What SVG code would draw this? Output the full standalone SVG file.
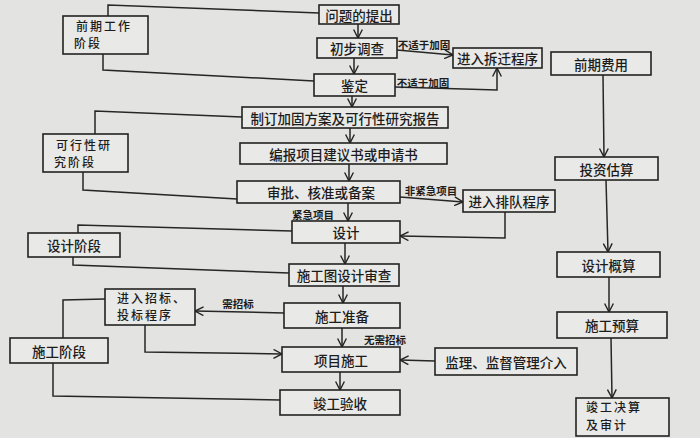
<svg xmlns="http://www.w3.org/2000/svg" width="700" height="438" viewBox="0 0 700 438">
<defs>
<marker id="arr" viewBox="0 0 10 10" refX="9.5" refY="5" markerWidth="10" markerHeight="10" markerUnits="userSpaceOnUse" orient="auto">
<path d="M1,0.6 L9.5,5 L1,9.4" fill="none" stroke="#222" stroke-width="1.4"/>
</marker>
<style>
.bx{fill:#e9e9e7;stroke:#222;stroke-width:1.6}
.t{font-family:"Noto Sans CJK SC","Noto Sans",sans-serif;font-size:13.5px;font-weight:500;fill:#1c1c1c;text-anchor:middle;dominant-baseline:central}
.tl{font-family:"Noto Sans CJK SC","Noto Sans",sans-serif;font-size:12px;font-weight:500;fill:#1c1c1c;letter-spacing:2px}
.lb{font-family:"Noto Sans CJK SC","Noto Sans",sans-serif;font-size:10.5px;font-weight:700;fill:#1c1c1c;text-anchor:middle;dominant-baseline:central}
.c{fill:none;stroke:#262626;stroke-width:1.5}
.ca{fill:none;stroke:#262626;stroke-width:1.5;marker-end:url(#arr)}
</style>
</defs>
<rect x="0" y="0" width="700" height="438" fill="#e3e3e1"/>

<g id="connectors">
<!-- phase brackets -->
<polyline class="c" points="108,16 108,5 319,13"/>
<polyline class="c" points="103,54 103,70 314,81"/>
<polyline class="c" points="95,134 95,111 242,117"/>
<polyline class="c" points="83,172 83,190 237,199"/>
<polyline class="c" points="78,233 78,225 292,231"/>
<polyline class="c" points="73,257 73,265 289,273"/>
<polyline class="c" points="63,338 63,300 105,299"/>
<polyline class="c" points="53,363 53,396 280,400"/>
<!-- main column -->
<line class="ca" x1="358" y1="24" x2="358" y2="38"/>
<line class="ca" x1="354" y1="58" x2="354" y2="74"/>
<line class="ca" x1="352" y1="96" x2="352" y2="107"/>
<line class="ca" x1="350" y1="128" x2="350" y2="143"/>
<line class="ca" x1="349" y1="164" x2="349" y2="181"/>
<line class="ca" x1="348" y1="203" x2="348" y2="221"/>
<line class="ca" x1="345" y1="243" x2="345" y2="264"/>
<line class="ca" x1="343" y1="286" x2="343" y2="303"/>
<line class="ca" x1="342" y1="328" x2="342" y2="347"/>
<line class="ca" x1="340" y1="372" x2="340" y2="390"/>
<!-- side flows -->
<line class="ca" x1="397" y1="50" x2="453" y2="55"/>
<polyline class="ca" points="395,87 497,90 497,68"/>
<line class="ca" x1="400" y1="197" x2="463" y2="202"/>
<polyline class="ca" points="505,212 505,238 400,236"/>
<line class="ca" x1="284" y1="313" x2="195" y2="311"/>
<polyline class="ca" points="145,325 145,352 282,354"/>
<line class="ca" x1="435" y1="361" x2="400" y2="360"/>
<!-- cost column -->
<line class="ca" x1="603" y1="75" x2="604" y2="157"/>
<line class="ca" x1="606" y1="180" x2="608" y2="252"/>
<line class="ca" x1="609" y1="277" x2="609" y2="312"/>
<line class="ca" x1="611" y1="338" x2="612" y2="398"/>
<!-- labels -->
<text class="lb" x="424" y="44">不适于加固</text>
<text class="lb" x="423" y="82">不适于加固</text>
<text class="lb" x="431" y="190">非紧急项目</text>
<text class="lb" x="313" y="214">紧急项目</text>
<text class="lb" x="238" y="303">需招标</text>
<text class="lb" x="385" y="339">无需招标</text>
</g>

<g id="n1"><rect class="bx" x="319" y="5" width="80" height="19"/><text class="t" x="359" y="14.5">问题的提出</text></g>
<g id="n2"><rect class="bx" x="317" y="38" width="80" height="20"/><text class="t" x="357" y="48">初步调查</text></g>
<g id="n3"><rect class="bx" x="314" y="74" width="81" height="22"/><text class="t" x="354.5" y="85">鉴定</text></g>
<g id="n4"><rect class="bx" x="242" y="107" width="206" height="21"/><text class="t" x="345" y="117.5">制订加固方案及可行性研究报告</text></g>
<g id="n5"><rect class="bx" x="240" y="143" width="207" height="21"/><text class="t" x="343.5" y="153.5">编报项目建议书或申请书</text></g>
<g id="n6"><rect class="bx" x="237" y="181" width="163" height="22"/><text class="t" x="321" y="192">审批、核准或备案</text></g>
<g id="n7"><rect class="bx" x="292" y="221" width="108" height="22"/><text class="t" x="346" y="232">设计</text></g>
<g id="n8"><rect class="bx" x="289" y="264" width="110" height="22"/><text class="t" x="344" y="275">施工图设计审查</text></g>
<g id="n9"><rect class="bx" x="284" y="303" width="116" height="25"/><text class="t" x="342" y="315.5">施工准备</text></g>
<g id="n10"><rect class="bx" x="282" y="347" width="118" height="25"/><text class="t" x="341" y="359.5">项目施工</text></g>
<g id="n11"><rect class="bx" x="280" y="390" width="120" height="25"/><text class="t" x="340" y="402.5">竣工验收</text></g>

<g id="n12"><rect class="bx" x="453" y="48" width="89" height="20"/><text class="t" x="497.5" y="58">进入拆迁程序</text></g>
<g id="n13"><rect class="bx" x="463" y="190" width="92" height="22"/><text class="t" x="509" y="201">进入排队程序</text></g>
<g id="n14"><rect class="bx" x="105" y="289" width="90" height="36"/><text class="tl"><tspan x="117" y="302.5">进入招标、</tspan><tspan x="117" y="320">投标程序</tspan></text></g>
<g id="n15"><rect class="bx" x="435" y="348" width="142" height="27"/><text class="t" x="506" y="361.5">监理、监督管理介入</text></g>

<g id="n16"><rect class="bx" x="551" y="52" width="100" height="23"/><text class="t" x="601" y="63.5">前期费用</text></g>
<g id="n17"><rect class="bx" x="555" y="157" width="103" height="23"/><text class="t" x="606.5" y="168.5">投资估算</text></g>
<g id="n18"><rect class="bx" x="557" y="252" width="103" height="25"/><text class="t" x="608.5" y="264.5">设计概算</text></g>
<g id="n19"><rect class="bx" x="557" y="312" width="110" height="26"/><text class="t" x="612" y="325">施工预算</text></g>
<g id="n20"><rect class="bx" x="576" y="398" width="93" height="38"/><text class="tl"><tspan x="586" y="412">竣工决算</tspan><tspan x="586" y="429.5">及审计</tspan></text></g>

<g id="n21"><rect class="bx" x="63" y="16" width="85" height="38"/><text class="tl"><tspan x="76" y="30.5">前期工作</tspan><tspan x="74" y="48">阶段</tspan></text></g>
<g id="n22"><rect class="bx" x="43" y="134" width="85" height="38"/><text class="tl"><tspan x="56" y="149.5">可行性研</tspan><tspan x="54" y="167">究阶段</tspan></text></g>
<g id="n23"><rect class="bx" x="28" y="233" width="92" height="24"/><text class="t" x="74" y="245">设计阶段</text></g>
<g id="n24"><rect class="bx" x="10" y="338" width="98" height="25"/><text class="t" x="59" y="350.5">施工阶段</text></g>
</svg>
